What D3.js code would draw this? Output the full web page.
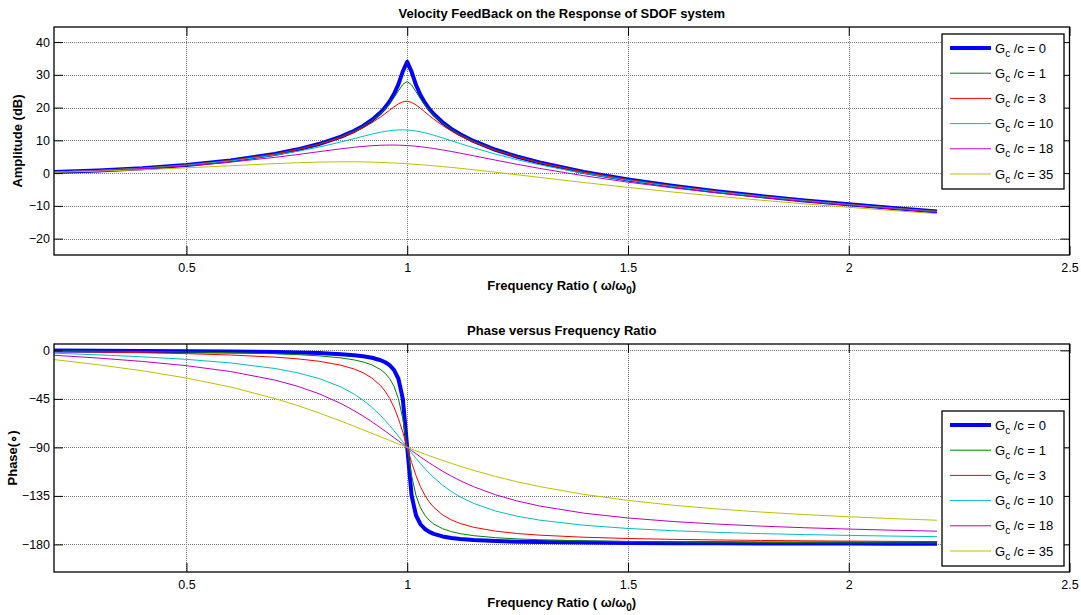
<!DOCTYPE html>
<html>
<head>
<meta charset="utf-8">
<script src="https://cdn.jsdelivr.net/npm/d3@7"></script>
<style>
  html, body { margin: 0; padding: 0; background: #fff; }
  svg { display: block; font-family: "Liberation Sans", Arial, sans-serif; }
</style>
</head>
<body>
<svg id="chart" width="1081" height="615"></svg>
<script>
// ---------- data ----------
const ratio = [0.2,0.3,0.4,0.5,0.6,0.7,0.75,0.8,0.85,0.88,0.9,0.92,0.94,0.95,0.96,0.97,0.98,0.99,1.0,
  1.01,1.02,1.03,1.04,1.05,1.06,1.08,1.1,1.12,1.15,1.2,1.25,1.3,1.4,1.5,1.6,1.7,1.8,1.9,2.0,2.1,2.2];

const gainLabels = [0, 1, 3, 10, 18, 35];

const ampG0  = [0.36,0.82,1.51,2.50,3.88,5.85,7.18,8.87,11.12,12.91,14.39,16.21,18.57,20.06,21.86,24.12,27.09,31.03,33.98,
  30.90,26.89,23.84,21.49,19.61,18.03,15.50,13.51,11.86,9.81,7.12,4.99,3.22,0.35,-1.94,-3.86,-5.53,-7.01,-8.33,-9.54,-10.66,-11.69];
const ampG1  = [0.35,0.82,1.51,2.50,3.87,5.84,7.16,8.84,11.07,12.83,14.27,16.03,18.25,19.61,21.18,23.01,25.08,27.07,27.96,
  26.91,24.82,22.67,20.76,19.11,17.68,15.29,13.37,11.76,9.74,7.08,4.96,3.20,0.34,-1.95,-3.87,-5.54,-7.01,-8.34,-9.55,-10.66,-11.69];
const ampG3  = [0.35,0.82,1.51,2.49,3.85,5.80,7.10,8.74,10.88,12.53,13.84,15.38,17.17,18.16,19.19,20.22,21.13,21.76,21.94,
  21.59,20.81,19.79,18.67,17.55,16.48,14.54,12.85,11.38,9.49,6.93,4.86,3.13,0.30,-1.98,-3.89,-5.55,-7.02,-8.35,-9.55,-10.67,-11.70];
const ampG10 = [0.35,0.80,1.47,2.41,3.70,5.47,6.60,7.94,9.51,10.54,11.23,11.90,12.49,12.74,12.95,13.10,13.18,13.20,13.15,
  13.03,12.84,12.59,12.29,11.95,11.57,10.75,9.89,9.02,7.75,5.80,4.07,2.53,-0.07,-2.23,-4.08,-5.70,-7.14,-8.44,-9.64,-10.73,-11.76];
const ampG18 = [0.33,0.75,1.38,2.23,3.36,4.80,5.64,6.54,7.42,7.89,8.15,8.36,8.50,8.54,8.56,8.56,8.53,8.48,8.40,
  8.31,8.19,8.04,7.88,7.70,7.51,7.08,6.60,6.09,5.30,3.96,2.66,1.43,-0.81,-2.76,-4.48,-6.01,-7.39,-8.65,-9.81,-10.89,-11.89];
const ampG35 = [0.26,0.58,1.03,1.60,2.25,2.89,3.16,3.36,3.45,3.45,3.41,3.35,3.26,3.21,3.15,3.09,3.02,2.94,2.85,
  2.76,2.67,2.57,2.46,2.35,2.24,1.99,1.73,1.46,1.03,0.27,-0.52,-1.31,-2.87,-4.36,-5.75,-7.05,-8.26,-9.39,-10.44,-11.44,-12.37];

const phG0  = [-0.24,-0.38,-0.55,-0.76,-1.07,-1.57,-1.96,-2.55,-3.51,-4.46,-5.41,-6.83,-9.17,-11.03,-13.76,-18.17,-26.33,-44.86,-90,
  -134.86,-153.21,-161.31,-165.70,-168.42,-170.27,-172.60,-174.02,-174.97,-175.92,-176.88,-177.46,-177.84,-178.33,-178.63,-178.82,-178.97,-179.08,-179.17,-179.24,-179.29,-179.34];
const phG1  = [-0.48,-0.76,-1.09,-1.53,-2.15,-3.14,-3.92,-5.08,-6.99,-8.87,-10.73,-13.47,-17.90,-21.30,-26.09,-33.29,-44.71,-63.32,-90,
  -116.45,-134.74,-145.92,-152.99,-157.72,-161.07,-165.45,-168.17,-170.01,-171.88,-173.77,-174.92,-175.69,-176.66,-177.25,-177.65,-177.94,-178.16,-178.33,-178.47,-178.59,-178.69];
const phG3  = [-0.95,-1.51,-2.18,-3.05,-4.29,-6.27,-7.81,-10.08,-13.77,-17.33,-20.75,-25.60,-32.87,-37.94,-44.41,-52.70,-63.20,-75.90,-90,
  -103.97,-116.34,-126.47,-134.44,-140.67,-145.54,-152.56,-157.26,-160.60,-164.08,-167.69,-169.92,-171.43,-173.35,-174.52,-175.31,-175.88,-176.32,-176.67,-176.95,-177.18,-177.38];
const phG10 = [-2.62,-4.15,-5.98,-8.34,-11.65,-16.80,-20.66,-26.05,-33.97,-40.63,-46.18,-52.81,-60.63,-64.99,-69.64,-74.52,-79.59,-84.78,-90,
  -95.17,-100.21,-105.04,-109.63,-113.93,-117.93,-125.00,-130.95,-135.92,-141.89,-149.04,-153.95,-157.48,-162.21,-165.21,-167.28,-168.81,-169.97,-170.90,-171.66,-172.28,-172.82];
const phG18 = [-4.53,-7.14,-10.26,-14.22,-19.61,-27.54,-33.08,-40.18,-49.33,-56.00,-60.95,-66.28,-71.95,-74.89,-77.87,-80.89,-83.93,-86.97,-90,
  -93.00,-95.95,-98.84,-101.67,-104.41,-107.06,-112.07,-116.67,-120.87,-126.42,-133.98,-139.82,-144.40,-151.01,-155.49,-158.70,-161.13,-163.02,-164.54,-165.78,-166.83,-167.72];
const phG35 = [-8.53,-13.35,-18.92,-25.64,-34.02,-44.66,-50.99,-58.00,-65.61,-70.40,-73.66,-76.95,-80.24,-81.89,-83.53,-85.16,-86.79,-88.40,-90,
  -91.58,-93.15,-94.69,-96.22,-97.72,-99.20,-102.08,-104.85,-107.51,-111.28,-116.99,-122.00,-126.40,-133.60,-139.17,-143.56,-147.07,-149.95,-152.34,-154.36,-156.08,-157.58];

const xTicks = [0.5, 1, 1.5, 2, 2.5];
const ampTicks = [-20, -10, 0, 10, 20, 30, 40];
const phaseTicks = [-180, -135, -90, -45, 0];

const ampSeries = [ampG0, ampG1, ampG3, ampG10, ampG18, ampG35];
const phSeries  = [phG0, phG1, phG3, phG10, phG18, phG35];
const colors = ["#0000FF", "#008000", "#FF0000", "#00BFBF", "#BF00BF", "#BFBF00"];
const widths = [4, 1, 1, 1, 1, 1];

// ---------- drawing ----------
const svg = d3.select("#chart");
const X0 = 54, X1 = 1069.5;

function panel(cfg) {
  const g = svg.append("g");
  const x = d3.scaleLinear().domain([0.2, 2.5]).range([X0, X1]);
  const y = d3.scaleLinear().domain(cfg.yDomain).range([cfg.bottom, cfg.top]);
  const w = X1 - X0, h = cfg.bottom - cfg.top;

  g.append("rect").attr("x", X0).attr("y", cfg.top).attr("width", w).attr("height", h)
    .attr("fill", "#fff");

  // grid
  const grid = g.append("g").attr("stroke", "#7a7a7a").attr("stroke-width", 1)
    .attr("stroke-dasharray", "1,1").attr("shape-rendering", "crispEdges");
  xTicks.forEach(t => {
    if (t > 0.2 && t < 2.5) grid.append("line").attr("x1", Math.round(x(t)) + 0.5).attr("x2", Math.round(x(t)) + 0.5)
      .attr("y1", cfg.top).attr("y2", cfg.bottom);
  });
  cfg.yTicks.forEach(t => {
    grid.append("line").attr("y1", Math.round(y(t)) + 0.5).attr("y2", Math.round(y(t)) + 0.5)
      .attr("x1", X0).attr("x2", X1);
  });

  // clip
  const cid = "clip" + cfg.id;
  svg.append("clipPath").attr("id", cid).append("rect")
    .attr("x", X0).attr("y", cfg.top).attr("width", w).attr("height", h);

  const line = d3.line().x((d, i) => x(ratio[i])).y(d => y(d));
  const lg = g.append("g").attr("clip-path", `url(#${cid})`);
  cfg.series.forEach((s, k) => {
    lg.append("path").datum(s).attr("d", line).attr("fill", "none")
      .attr("stroke", colors[k]).attr("stroke-width", widths[k]).attr("stroke-linejoin", "round");
  });

  // axes (ticks inside, box)
  const tl = 9;
  const axB = d3.axisBottom(x).tickValues(xTicks).tickSizeInner(-tl).tickSizeOuter(0).tickPadding(8)
    .tickFormat(d3.format("~g"));
  const axT = d3.axisTop(x).tickValues(xTicks).tickSizeInner(-tl).tickSizeOuter(0).tickFormat("");
  const axL = d3.axisLeft(y).tickValues(cfg.yTicks).tickSizeInner(-tl).tickSizeOuter(0).tickPadding(4)
    .tickFormat(d3.format("~g"));
  const axR = d3.axisRight(y).tickValues(cfg.yTicks).tickSizeInner(-tl).tickSizeOuter(0).tickFormat("");

  const style = sel => {
    sel.select(".domain").remove();
    sel.selectAll("line").attr("stroke", "#000").attr("stroke-width", 1);
    sel.selectAll("text").attr("fill", "#000").style("font-size", "12.5px")
      .style("font-family", "'Liberation Sans', Arial, sans-serif");
  };
  g.append("g").attr("transform", `translate(0,${cfg.bottom})`).call(axB).call(style);
  g.append("g").attr("transform", `translate(0,${cfg.top})`).call(axT).call(style);
  g.append("g").attr("transform", `translate(${X0},0)`).call(axL).call(style);
  g.append("g").attr("transform", `translate(${X1},0)`).call(axR).call(style);

  g.append("rect").attr("x", X0).attr("y", cfg.top).attr("width", w).attr("height", h)
    .attr("fill", "none").attr("stroke", "#000").attr("stroke-width", 1.3);

  // title
  g.append("text").attr("x", (X0 + X1) / 2).attr("y", cfg.top - 9).attr("text-anchor", "middle")
    .style("font-size", "13px").style("font-weight", "bold").text(cfg.title);

  // x label
  const xl = g.append("text").attr("x", (X0 + X1) / 2).attr("y", cfg.bottom + 35).attr("text-anchor", "middle")
    .style("font-size", "13px").style("font-weight", "bold");
  xl.append("tspan").text("Frequency Ratio ( ω/ω");
  xl.append("tspan").attr("dy", 4).style("font-size", "10px").text("0");
  xl.append("tspan").attr("dy", -4).text(")");

  // y label
  g.append("text").attr("transform", `translate(${cfg.yLabelX},${(cfg.top + cfg.bottom) / 2}) rotate(-90)`)
    .attr("text-anchor", "middle").style("font-size", "13px").style("font-weight", "bold").text(cfg.yLabel);

  // legend
  const L = cfg.legend;
  const leg = g.append("g");
  leg.append("rect").attr("x", L.x).attr("y", L.y).attr("width", 122).attr("height", 155)
    .attr("fill", "#fff").attr("stroke", "#000").attr("stroke-width", 1.3);
  gainLabels.forEach((gv, k) => {
    const cy = L.y + 14 + k * 25.2;
    leg.append("line").attr("x1", L.x + 8).attr("x2", L.x + 49).attr("y1", cy).attr("y2", cy)
      .attr("stroke", colors[k]).attr("stroke-width", widths[k]);
    const t = leg.append("text").attr("x", L.x + 53).attr("y", cy + 4.5).style("font-size", "13px");
    t.append("tspan").text("G");
    t.append("tspan").attr("dy", 4).style("font-size", "10px").text("c");
    t.append("tspan").attr("dy", -4).text(" /c = " + gv);
  });
}

panel({
  id: "a", top: 27, bottom: 255, yDomain: [-25, 44.6], yTicks: ampTicks,
  series: ampSeries, title: "Velocity FeedBack on the Response of SDOF system",
  yLabel: "Amplitude (dB)", yLabelX: 22, legend: { x: 942, y: 34 }
});
panel({
  id: "b", top: 344, bottom: 572, yDomain: [-205.6, 5.9], yTicks: phaseTicks,
  series: phSeries, title: "Phase versus Frequency Ratio",
  yLabel: "Phase(∘)", yLabelX: 17, legend: { x: 942, y: 411 }
});
</script>
</body>
</html>
